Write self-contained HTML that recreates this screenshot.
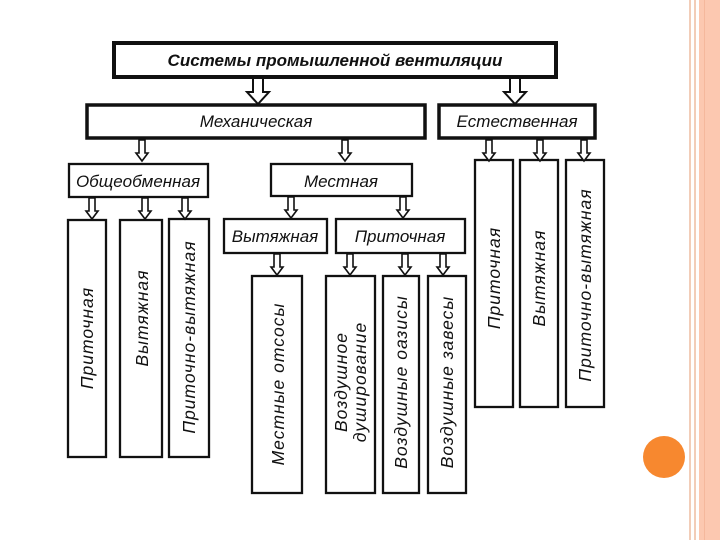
<!DOCTYPE html>
<html><head><meta charset="utf-8"><style>
html,body{margin:0;padding:0;background:#fff;}
svg{display:block;}
text{font-family:"Liberation Sans",sans-serif;font-style:italic;fill:#111;}
</style></head><body>
<svg width="720" height="540" viewBox="0 0 720 540" xmlns="http://www.w3.org/2000/svg">
<defs>
<g id="ab"><path d="M-5,0 H5 V14 H11 L0,26 L-11,14 H-5 Z" fill="#fff" stroke="#111" stroke-width="2"/></g>
<g id="as"><path d="M-3,0 H3 V13 H6 L0,21 L-6,13 H-3 Z" fill="#fff" stroke="#111" stroke-width="1.6"/></g>
</defs>
<rect x="0" y="0" width="720" height="540" fill="#fff"/>
<rect x="689" y="0" width="2" height="540" fill="#f2cdb8"/>
<rect x="694" y="0" width="2" height="540" fill="#f2cdb8"/>
<rect x="699" y="0" width="21" height="540" fill="#fcc8b0"/>
<rect x="704" y="0" width="1" height="540" fill="#f5b89c"/>
<circle cx="664" cy="457" r="21" fill="#f7882f"/>

<g fill="#fff" stroke="#111">
<rect x="114" y="43" width="442" height="34" stroke-width="4"/>
<rect x="87" y="105" width="338" height="33" stroke-width="3.5"/>
<rect x="439" y="105" width="156" height="33" stroke-width="3.5"/>
<rect x="69" y="164" width="139" height="33" stroke-width="2.3"/>
<rect x="271" y="164" width="141" height="32" stroke-width="2.3"/>
<rect x="224" y="219" width="103" height="34" stroke-width="2.3"/>
<rect x="336" y="219" width="129" height="34" stroke-width="2.3"/>
<rect x="68" y="220" width="38" height="237" stroke-width="2.3"/>
<rect x="120" y="220" width="42" height="237" stroke-width="2.3"/>
<rect x="169" y="219" width="40" height="238" stroke-width="2.3"/>
<rect x="252" y="276" width="50" height="217" stroke-width="2.3"/>
<rect x="326" y="276" width="49" height="217" stroke-width="2.3"/>
<rect x="383" y="276" width="36" height="217" stroke-width="2.3"/>
<rect x="428" y="276" width="38" height="217" stroke-width="2.3"/>
<rect x="475" y="160" width="38" height="247" stroke-width="2.3"/>
<rect x="520" y="160" width="38" height="247" stroke-width="2.3"/>
<rect x="566" y="160" width="38" height="247" stroke-width="2.3"/>
</g>

<use href="#ab" x="258" y="78"/>
<use href="#ab" x="515" y="78"/>
<use href="#as" x="142" y="140"/>
<use href="#as" x="345" y="140"/>
<use href="#as" x="489" y="140"/>
<use href="#as" x="540" y="140"/>
<use href="#as" x="584" y="140"/>
<use href="#as" x="92" y="198"/>
<use href="#as" x="145" y="198"/>
<use href="#as" x="185" y="198"/>
<use href="#as" x="291" y="197"/>
<use href="#as" x="403" y="197"/>
<use href="#as" x="277" y="254"/>
<use href="#as" x="350" y="254"/>
<use href="#as" x="405" y="254"/>
<use href="#as" x="443" y="254"/>

<g text-anchor="middle" font-size="17">
<text x="335" y="66" font-weight="bold" font-size="17">Системы промышленной вентиляции</text>
<text x="256" y="127">Механическая</text>
<text x="517" y="127">Естественная</text>
<text x="138" y="187">Общеобменная</text>
<text x="341" y="187">Местная</text>
<text x="275" y="242">Вытяжная</text>
<text x="400" y="242">Приточная</text>
</g>
<g text-anchor="middle" font-size="17.5" letter-spacing="1">
<text transform="translate(93,338) rotate(-90)">Приточная</text>
<text transform="translate(148,318) rotate(-90)">Вытяжная</text>
<text transform="translate(195,337) rotate(-90)">Приточно-вытяжная</text>
<text transform="translate(284,384) rotate(-90)">Местные отсосы</text>
<text transform="translate(347,382) rotate(-90)">Воздушное</text>
<text transform="translate(366,382) rotate(-90)">душирование</text>
<text transform="translate(407,382) rotate(-90)">Воздушные оазисы</text>
<text transform="translate(453,382) rotate(-90)">Воздушные завесы</text>
<text transform="translate(500,278) rotate(-90)">Приточная</text>
<text transform="translate(545,278) rotate(-90)">Вытяжная</text>
<text transform="translate(591,285) rotate(-90)">Приточно-вытяжная</text>
</g>
</svg>
</body></html>
